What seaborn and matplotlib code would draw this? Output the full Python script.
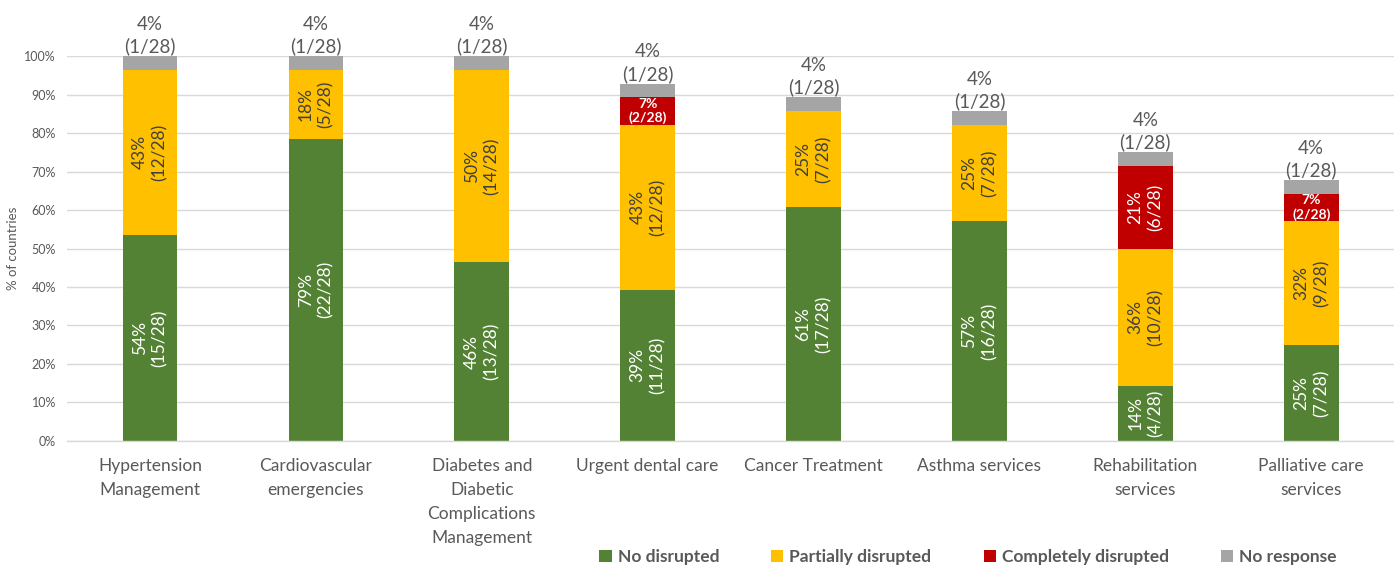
import matplotlib
matplotlib.use("Agg")
import matplotlib.pyplot as plt
import seaborn as sns
from matplotlib.patches import Patch

categories = [
    "Hypertension\nManagement",
    "Cardiovascular\nemergencies",
    "Diabetes and\nDiabetic\nComplications\nManagement",
    "Urgent dental care",
    "Cancer Treatment",
    "Asthma services",
    "Rehabilitation\nservices",
    "Palliative care\nservices",
]
no_disrupted = [15, 22, 13, 11, 17, 16, 4, 7]
partially_disrupted = [12, 5, 14, 12, 7, 7, 10, 9]
completely_disrupted = [0, 0, 0, 2, 0, 0, 6, 2]
no_response = [1, 1, 1, 1, 1, 1, 1, 1]
total_countries = 28
series_names = ["No disrupted", "Partially disrupted", "Completely disrupted", "No response"]
series_colors = ["#548235", "#FFC000", "#C00000", "#A5A5A5"]
yticks = [0, 10, 20, 30, 40, 50, 60, 70, 80, 90, 100]

sns.set_theme(style="white")
plt.rcParams['font.family'] = ['Lato', 'DejaVu Sans']

TXT = "#595959"

fig = plt.figure(figsize=(13.94, 5.68), dpi=100)
ax = fig.add_axes([0.0481, 0.2236, 0.952, 0.6778])

series = [no_disrupted, partially_disrupted, completely_disrupted, no_response]
pcts = [[100.0 * v / total_countries for v in s] for s in series]
cums = []
run = [0.0] * len(categories)
for p in pcts:
    run = [a + b for a, b in zip(run, p)]
    cums.append(run)

# draw from the tallest cumulative down so lower segments overlay
for k in [3, 2, 1, 0]:
    sns.barplot(x=categories, y=cums[k], order=categories, color=series_colors[k],
                saturation=1, width=0.33, ax=ax, zorder=2, linewidth=0)

# labels
for i in range(len(categories)):
    base = 0.0
    for k in range(3):
        n = series[k][i]
        h = pcts[k][i]
        if n > 0:
            pct_txt = f"{round(h):.0f}%"
            lab = f"{pct_txt}\n({n}/{total_countries})"
            mid = base + h / 2
            color = "#404040" if k == 1 else "white"
            if h < 10:
                ax.text(i, mid, lab, ha="center", va="center", color="white",
                        fontsize=10, fontweight="bold", linespacing=1.2, zorder=3)
            else:
                ax.text(i, mid, lab, ha="center", va="center", color=color,
                        fontsize=12.5, rotation=90, linespacing=1.3, zorder=3)
        base += h
    # no response label above
    n = no_response[i]
    top = cums[3][i]
    ax.text(i, top + 0.2, f"{round(pcts[3][i]):.0f}%\n({n}/{total_countries})",
            ha="center", va="bottom", color=TXT, fontsize=13.5, linespacing=1.3,
            zorder=3, clip_on=False)

ax.set_xlim(-0.5, len(categories) - 0.5)
ax.set_ylim(0, 100)
ax.set_yticks(yticks)
ax.set_yticklabels([f"{v}%" for v in yticks])
ax.yaxis.grid(True, color="#D9D9D9", linewidth=1)
ax.set_axisbelow(True)
for s in ["top", "right", "left"]:
    ax.spines[s].set_visible(False)
ax.spines["bottom"].set_color("#D9D9D9")
ax.spines["bottom"].set_linewidth(1)
ax.tick_params(axis="x", length=0, pad=12, labelsize=12.5, colors=TXT)
for t in ax.get_xticklabels():
    t.set_linespacing(1.62)
ax.tick_params(axis="y", length=0, pad=8, labelsize=9, colors=TXT)
ax.set_xlabel("")
ax.set_ylabel("% of countries", fontsize=9.5, color=TXT, labelpad=4)

handles = [Patch(facecolor=c, edgecolor="none", label=l) for c, l in zip(series_colors, series_names)]
fig.legend(handles=handles, loc="center", bbox_to_anchor=(968 / 1394, 1 - 557 / 568),
           ncol=4, frameon=False, prop={"weight": "bold", "size": 12.5},
           handlelength=0.7, handleheight=0.7, handletextpad=0.35, columnspacing=3.0,
           labelcolor=TXT)

fig.savefig("out.png", dpi=100)
